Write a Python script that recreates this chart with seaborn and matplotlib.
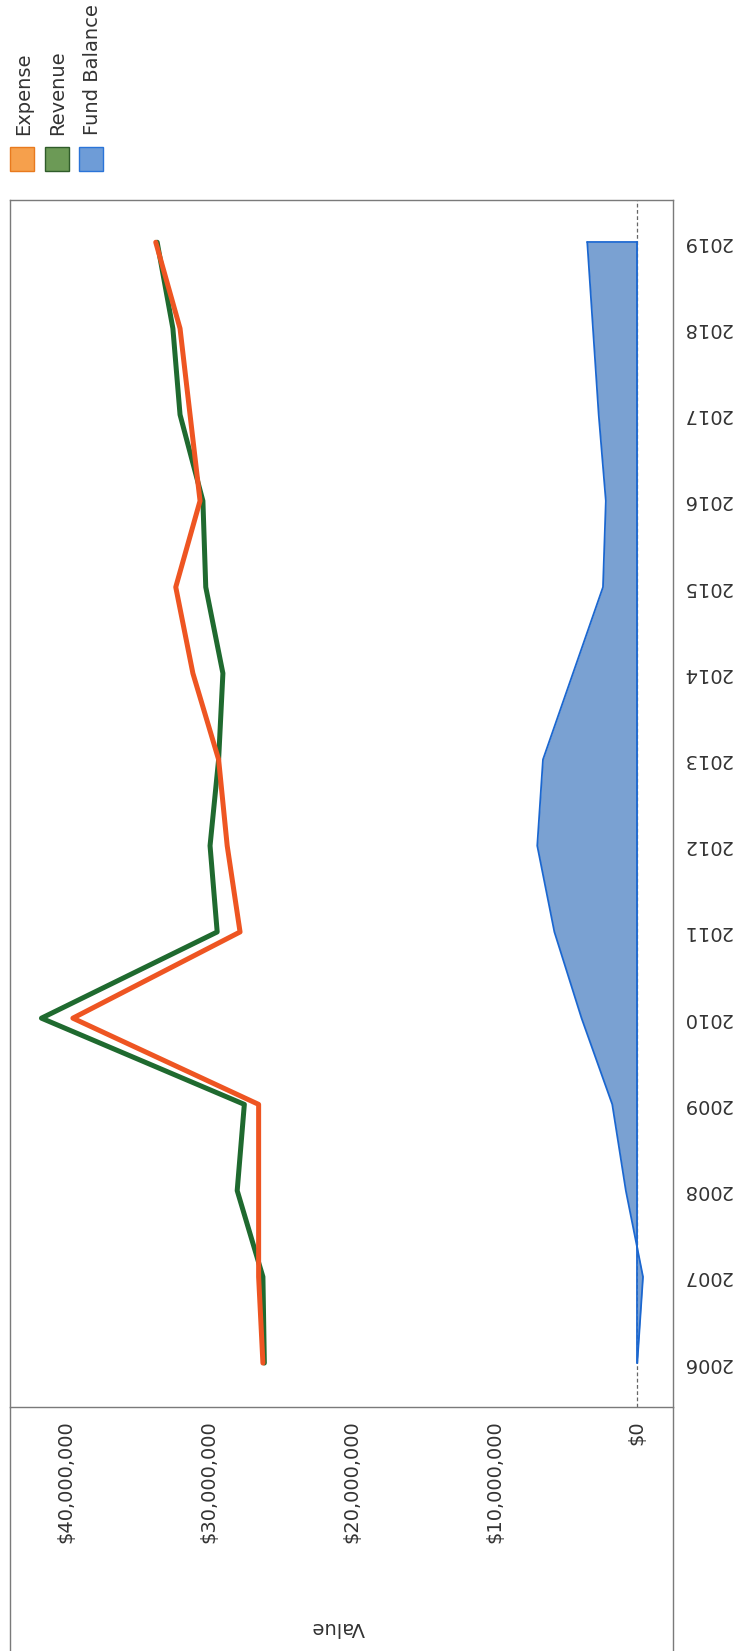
import numpy as np
import pandas as pd
import matplotlib
matplotlib.use("Agg")
import matplotlib.pyplot as plt
from matplotlib.patches import Rectangle
import seaborn as sns

# ---------------- data ----------------
years = [2006, 2007, 2008, 2009, 2010, 2011, 2012, 2013, 2014, 2015, 2016, 2017, 2018, 2019]
expense = [26.2, 26.5, 26.5, 26.5, 39.5, 27.8, 28.7, 29.3, 31.1, 32.3, 30.6, 31.3, 32.0, 33.7]   # $M
revenue = [26.1, 26.2, 28.0, 27.5, 41.7, 29.4, 29.9, 29.3, 29.0, 30.2, 30.4, 32.0, 32.5, 33.6]   # $M
fund_balance = [0.0, -0.4, 0.8, 1.75, 3.9, 5.8, 7.0, 6.6, 4.5, 2.4, 2.2, 2.7, 3.1, 3.5]          # $M
value_ticks = [0, 10_000_000, 20_000_000, 30_000_000, 40_000_000]
value_tick_labels = ["$0", "$10,000,000", "$20,000,000", "$30,000,000", "$40,000,000"]
legend_labels = ["Expense", "Revenue", "Fund Balance"]

# ---------------- style ----------------
sns.set_style("white")
plt.rcParams["font.family"] = ["DejaVu Sans"]
TXT = "#333333"
FRAME = "#7a7a7a"
C_EXP = "#ee5522"
C_REV = "#1f6a2f"
C_FUND_FILL = "#7aa1d2"
C_FUND_EDGE = "#1b67d0"

W, H = 737, 1651
fig = plt.figure(figsize=(W / 100, H / 100), dpi=100)

# main plot area (pixel box: left 10, right 673, top 200, bottom 1407)
L, R, T, B = 10, 673, 200, 1407
ax = fig.add_axes([L / W, 1 - B / H, (R - L) / W, (B - T) / H])

df = pd.DataFrame({
    "year": years * 2,
    "value": [v * 1e6 for v in expense] + [v * 1e6 for v in revenue],
    "series": ["Expense"] * len(years) + ["Revenue"] * len(years),
})
fund = np.array(fund_balance) * 1e6

ax.fill_betweenx(years, 0, fund, color=C_FUND_FILL, lw=0, zorder=1)
ax.plot(fund, years, color=C_FUND_EDGE, lw=1.3, zorder=2)
ax.plot([0, 0], [years[0], years[-1]], color=C_FUND_EDGE, lw=1.3, zorder=2)
ax.plot([0, fund[-1]], [years[-1], years[-1]], color=C_FUND_EDGE, lw=1.3, zorder=2)
ax.axvline(0, color="#666666", lw=0.9, ls=(0, (3, 2)), zorder=0.5)

sns.lineplot(data=df, x="value", y="year", hue="series", orient="y",
             palette={"Expense": C_EXP, "Revenue": C_REV},
             hue_order=["Revenue", "Expense"],
             lw=3.6, legend=False, ax=ax, zorder=3,
             solid_capstyle="round", solid_joinstyle="round")

ax.set_xlim(43.9e6, -2.5e6)
ax.set_ylim(2005.49, 2019.49)

ax.set_xticks(value_ticks)
ax.set_xticklabels(value_tick_labels, rotation=90, color=TXT, fontsize=14)
ax.set_yticks(years)
ax.set_yticklabels([str(y) for y in years], rotation=180, color=TXT, fontsize=14)
ax.yaxis.tick_right()
ax.tick_params(axis="x", length=0, pad=9.5)
ax.tick_params(axis="y", length=0, pad=6.5)
for lab in ax.get_yticklabels():
    lab.set_ha("left")
    lab.set_va("center")

ax.set_ylabel("")
ax.set_xlabel("Value", rotation=180, color=TXT, fontsize=14, va="center", ha="center")
ax.xaxis.set_label_coords((338 - L) / (R - L), -(1627 - B) / (B - T))

for s in ax.spines.values():
    s.set_visible(True)
    s.set_color(FRAME)
    s.set_linewidth(1.0)
ax.grid(False)

# overlay in pixel coordinates for frame extension and legend
ov = fig.add_axes([0, 0, 1, 1], zorder=-1)
ov.set_xlim(0, W)
ov.set_ylim(H, 0)
ov.axis("off")
ov.plot([L, L], [B, H], color=FRAME, lw=1.0)
ov.plot([R, R], [B, H], color=FRAME, lw=1.0)

ov2 = fig.add_axes([0, 0, 1, 1], zorder=5)
ov2.set_xlim(0, W)
ov2.set_ylim(H, 0)
ov2.axis("off")
sw = [(10, "#f6a04c", "#e87a1e"), (45, "#6c9a56", "#2f5c2a"), (79, "#6e9cd7", "#2a74d8")]
text_x = [24, 58, 93]
for (x0, fc, ec), tx, lab in zip(sw, text_x, legend_labels):
    ov2.add_patch(Rectangle((x0, 147), 24, 24, facecolor=fc, edgecolor=ec, lw=1.0))
    ov2.text(tx, 135, lab, rotation=90, ha="center", va="bottom", fontsize=14, color=TXT)

fig.savefig("out.png", dpi=100)
